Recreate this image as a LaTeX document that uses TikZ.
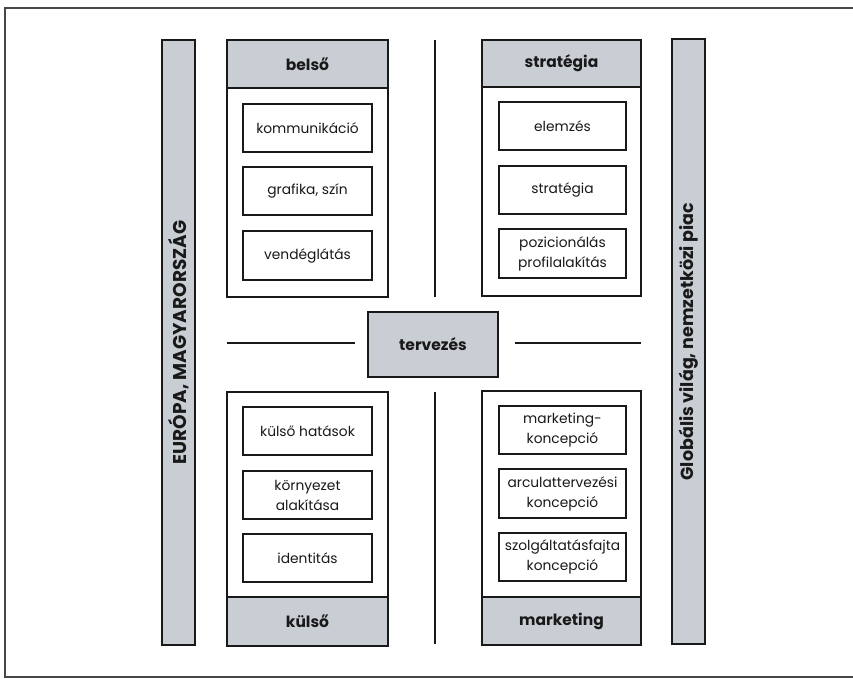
\documentclass[tikz,border=0pt]{standalone}
\usepackage{fontspec}
\setmainfont{Poppins}
\definecolor{shade}{RGB}{200,206,212}
\definecolor{ink}{RGB}{25,25,25}
\tikzset{
  base/.style={rectangle, inner sep=0pt, outer sep=0pt, text=ink},
  panel/.style={base, draw=ink, line width=1.8pt, fill=white},
  headbox/.style={base, draw=ink, line width=1.8pt, fill=shade, font=\fontsize{15.5}{18}\selectfont\bfseries},
  item/.style={base, draw=ink, line width=1.3pt, fill=white, align=center, font=\fontsize{13.8}{20}\selectfont},
  sidebar/.style={base, draw=ink, line width=1.8pt, fill=shade},
  sidelabel/.style={text=ink, font=\bfseries, rotate=90, inner sep=0pt},
  rule/.style={draw=ink, line width=1.6pt},
  frame/.style={draw=ink!80, line width=1.2pt}
}
\newcommand\bx[7]{\node[#1, minimum width={#4-#2}, minimum height={#5-#3}] (#6) at ({(#2+#4)/2},{(#3+#5)/2}) {#7};}
\begin{document}
\begin{tikzpicture}[x=1pt,y=-1pt]
\useasboundingbox (0,0) rectangle (853,679);
% outer frame (right side runs off the page)
\draw[frame] (5,8) rectangle (875,677);
% side bars
\bx{sidebar}{162}{40}{195}{645}{leftbar}{}
\bx{sidebar}{672}{39}{705}{644}{rightbar}{}
\node[sidelabel, font=\fontsize{18.5}{20}\selectfont\bfseries] (leftlabel) at (leftbar.center) {EURÓPA, MAGYARORSZÁG};
\node[sidelabel, font=\fontsize{17.5}{20}\selectfont\bfseries] (rightlabel) at (rightbar.center) {Globális világ, nemzetközi piac};
% top-left group
\bx{panel}{227}{40}{388}{297}{tlpanel}{}
\bx{headbox}{227}{40}{388}{88}{tlhead}{belső}
\bx{item}{243}{104}{372}{152}{tla}{kommunikáció}
\bx{item}{243}{167}{372}{215}{tlb}{grafika, szín}
\bx{item}{243}{231}{372}{280}{tlc}{vendéglátás}
% top-right group
\bx{panel}{482}{40}{641}{296}{trpanel}{}
\bx{headbox}{482}{40}{641}{87}{trhead}{stratégia}
\bx{item}{499}{102}{626}{150}{tra}{elemzés}
\bx{item}{499}{166}{626}{214}{trb}{stratégia}
\bx{item}{499}{229}{626}{278}{trc}{pozicionálás\\profilalakítás}
% bottom-left group
\bx{panel}{227}{392}{388}{646}{blpanel}{}
\bx{headbox}{227}{597}{388}{646}{blhead}{külső}
\bx{item}{243}{407}{372}{455}{bla}{külső hatások}
\bx{item}{243}{471}{372}{519}{blb}{környezet\\alakítása}
\bx{item}{243}{534}{372}{582}{blc}{identitás}
% bottom-right group
\bx{panel}{482}{391}{641}{645}{brpanel}{}
\bx{headbox}{482}{597}{641}{645}{brhead}{marketing}
\bx{item}{499}{406}{626}{454}{bra}{marketing-\\koncepció}
\bx{item}{499}{469}{626}{518}{brb}{arculattervezési\\koncepció}
\bx{item}{499}{533}{626}{581}{brc}{szolgáltatásfajta\\koncepció}
% centre
\bx{headbox}{368}{312}{498}{377}{terv}{tervezés}
% dividing rules
\coordinate (vt1) at (435,40);
\coordinate (vt2) at (435,297);
\coordinate (vb1) at (435,392);
\coordinate (vb2) at (435,644);
\coordinate (hl1) at (227,343);
\coordinate (hl2) at (355,343);
\coordinate (hr1) at (515,343);
\coordinate (hr2) at (641,343);
\draw[rule] (vt1) -- (vt2);
\draw[rule] (vb1) -- (vb2);
\draw[rule] (hl1) -- (hl2);
\draw[rule] (hr1) -- (hr2);
\end{tikzpicture}
\end{document}
